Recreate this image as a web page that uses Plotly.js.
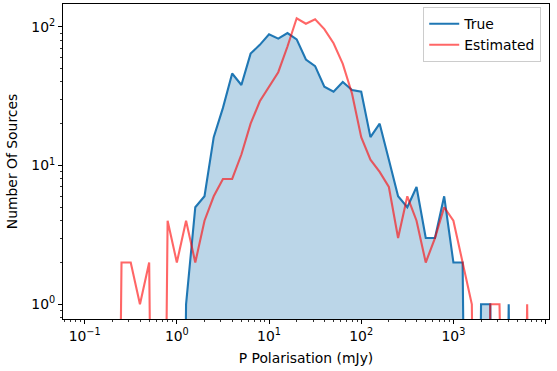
<!DOCTYPE html>
<html>
<head>
<meta charset="utf-8">
<script src="https://cdn.plot.ly/plotly-3.0.1.min.js"></script>
<style>html,body{margin:0;padding:0;background:#fff;}#chart{width:557px;height:371px;}</style>
</head>
<body>
<div id="chart"></div>
<script>
// Bin centres (mJy), ten per decade
const binCentres = [0.200, 0.251, 0.316, 0.398, 0.501, 0.631, 0.794,
  1.000, 1.259, 1.585, 1.995, 2.512, 3.162, 3.981, 5.012, 6.310, 7.943,
  10.00, 12.59, 15.85, 19.95, 25.12, 31.62, 39.81, 50.12, 63.10, 79.43,
  100.0, 125.9, 158.5, 199.5, 251.2, 316.2, 398.1, 501.2, 631.0, 794.3,
  1000, 1259, 1585, 1995, 2512, 3162, 3981, 5012, 6310, 7943];

const trueCounts = [0, 0, 0, 0, 0, 0, 0,
  0, 1, 5, 6, 16, 26, 46, 38, 64, 74,
  88, 82, 90, 81, 58, 52, 37, 34, 40, 35,
  34, 16, 20, 11, 6, 5, 7, 3, 3, 6,
  2, 2, 0, 1, 1, 0, 1, 0, 0, 0];

const estimatedCounts = [0, 2, 2, 1, 2, 0, 4,
  2, 4, 2, 4, 6, 8, 8, 12, 20, 29,
  37, 47, 72, 115, 105, 113, 96, 76, 54, 33,
  16, 11, 9, 7, 3, 6, 4, 2, 3, 5,
  4, 2, 1, 0, 1, 1, 0, 0, 1, 0];

const xTickVals = [0.1, 1, 10, 100, 1000, 10000];
const xTickText = ['10<sup>−1</sup>', '10<sup>0</sup>', '10<sup>1</sup>', '10<sup>2</sup>', '10<sup>3</sup>', '10<sup>4</sup>'];
const yTickVals = [1, 10, 100];
const yTickText = ['10<sup>0</sup>', '10<sup>1</sup>', '10<sup>2</sup>'];

// Like matplotlib's log-scale clipping: non-positive counts go far below the axis
const CLIP = 1e-6;
const clip = arr => arr.map(v => v > 0 ? v : CLIP);

function minorTicks(lo, hi) {
  const out = [];
  for (let d = lo; d <= hi; d++) {
    for (let k = 2; k <= 9; k++) out.push(k * Math.pow(10, d));
  }
  return out;
}

const FONT = {family: 'DejaVu Sans, sans-serif', size: 13.9, color: '#000'};
const BLUE = '#1f77b4';

const traces = [
  {x: binCentres, y: binCentres.map(() => CLIP), mode: 'lines', line: {width: 0}, showlegend: false, hoverinfo: 'skip'},
  {x: binCentres, y: clip(trueCounts), mode: 'lines', line: {width: 0}, fill: 'tonexty',
   fillcolor: 'rgba(31,119,180,0.3)', showlegend: false, hoverinfo: 'skip'},
  {x: binCentres, y: clip(trueCounts), mode: 'lines', name: 'True', line: {color: BLUE, width: 2.1}},
  {x: binCentres, y: clip(estimatedCounts), mode: 'lines', name: 'Estimated', line: {color: 'rgba(255,0,0,0.6)', width: 2.1}}
];

const layout = {
  width: 557, height: 371,
  margin: {l: 63, r: 8, t: 4, b: 52},
  paper_bgcolor: '#fff', plot_bgcolor: '#fff',
  font: FONT,
  showlegend: true,
  legend: {x: 0.984, y: 0.99, xanchor: 'right', yanchor: 'top', bgcolor: 'rgba(255,255,255,0.8)',
           bordercolor: '#cccccc', borderwidth: 1, font: FONT, traceorder: 'normal'},
  xaxis: {type: 'log', range: [-1.235, 4.037], showgrid: false, zeroline: false,
          showline: true, mirror: true, linecolor: '#000', linewidth: 1,
          ticks: 'outside', ticklen: 4, tickwidth: 1, tickcolor: '#000',
          tickmode: 'array', tickvals: xTickVals, ticktext: xTickText, tickfont: FONT,
          minor: {ticks: 'outside', ticklen: 2, tickwidth: 0.8, tickcolor: '#000', tickmode: 'array', tickvals: minorTicks(-2, 4), showgrid: false},
          title: {text: 'P Polarisation (mJy)', font: FONT, standoff: 10}},
  yaxis: {type: 'log', range: [-0.106, 2.1635], showgrid: false, zeroline: false,
          showline: true, mirror: true, linecolor: '#000', linewidth: 1,
          ticks: 'outside', ticklen: 4, tickwidth: 1, tickcolor: '#000',
          tickmode: 'array', tickvals: yTickVals, ticktext: yTickText, tickfont: FONT,
          minor: {ticks: 'outside', ticklen: 2, tickwidth: 0.8, tickcolor: '#000', tickmode: 'array', tickvals: minorTicks(-1, 2), showgrid: false},
          title: {text: 'Number Of Sources', font: FONT, standoff: 10}}
};

Plotly.newPlot('chart', traces, layout, {displayModeBar: false, staticPlot: true});
</script>
</body>
</html>
